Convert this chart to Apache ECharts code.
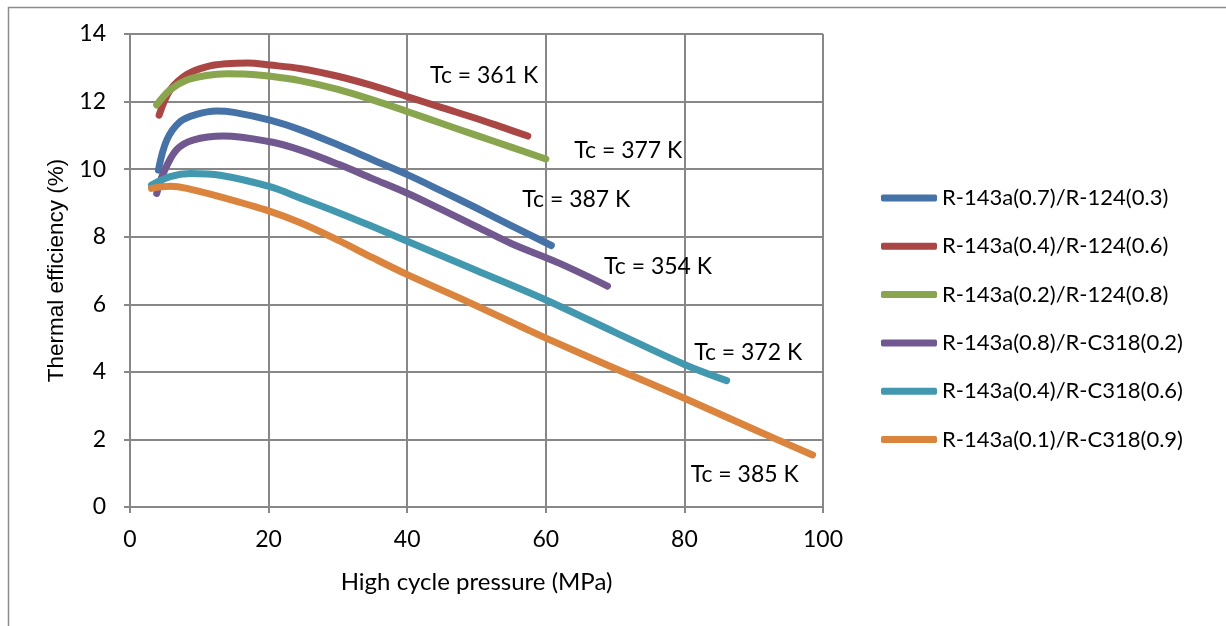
<!DOCTYPE html>
<html>
<head>
<meta charset="utf-8">
<script src="https://cdn.jsdelivr.net/npm/echarts@6/dist/echarts.min.js"></script>
<style>
  html, body { margin: 0; padding: 0; background: #fff; }
  #chart { width: 1226px; height: 626px; }
</style>
</head>
<body>
<div id="chart"></div>
<script>
const names = [
  'R-143a(0.7)/R-124(0.3)',
  'R-143a(0.4)/R-124(0.6)',
  'R-143a(0.2)/R-124(0.8)',
  'R-143a(0.8)/R-C318(0.2)',
  'R-143a(0.4)/R-C318(0.6)',
  'R-143a(0.1)/R-C318(0.9)',
];
const colors = ['#4572A7', '#AA4643', '#89A54E', '#71588F', '#4198AF', '#DB843D'];

// pressure (MPa) / efficiency (%)
const blueX = [4.1, 5.3, 7.2, 9.6, 12.5, 15, 20.2, 24.5, 30, 35, 40.1, 45, 50, 55, 60.8];
const blueY = [9.97, 10.86, 11.4, 11.62, 11.72, 11.68, 11.45, 11.17, 10.72, 10.28, 9.83, 9.35, 8.85, 8.33, 7.74];
const redX = [4.2, 5.8, 8.2, 11, 14, 17, 20.2, 24.5, 30, 35, 40.1, 45, 50, 54, 57.4];
const redY = [11.6, 12.34, 12.8, 13.03, 13.12, 13.14, 13.08, 12.98, 12.75, 12.47, 12.14, 11.82, 11.5, 11.22, 10.98];
const greenX = [3.85, 5.8, 8.2, 11, 14, 17, 20.2, 24.5, 30, 35, 40.1, 45, 50, 55, 60];
const greenY = [11.9, 12.35, 12.64, 12.77, 12.82, 12.81, 12.75, 12.62, 12.36, 12.05, 11.7, 11.35, 11.0, 10.65, 10.3];
const purpleX = [3.85, 4.8, 6.7, 9.1, 13.5, 20.2, 24.5, 30, 35, 40.1, 45, 50, 55, 62, 68.9];
const purpleY = [9.28, 9.87, 10.57, 10.86, 10.98, 10.81, 10.57, 10.15, 9.72, 9.28, 8.8, 8.3, 7.8, 7.21, 6.54];
const cyanX = [3.1, 5.8, 8.7, 13, 20.2, 24.5, 30, 35, 40.1, 50, 60.1, 70, 80, 86.1];
const cyanY = [9.53, 9.78, 9.87, 9.82, 9.48, 9.15, 8.72, 8.3, 7.86, 7.0, 6.12, 5.17, 4.22, 3.74];
const orangeX = [3.1, 5.8, 8.2, 13, 20.2, 24.5, 30, 35, 40.1, 49, 56.3, 60.1, 70, 80, 90, 98.5];
const orangeY = [9.43, 9.49, 9.43, 9.18, 8.75, 8.42, 7.9, 7.38, 6.87, 6.05, 5.35, 4.99, 4.1, 3.22, 2.3, 1.54];

const seriesX = [blueX, redX, greenX, purpleX, cyanX, orangeX];
const seriesY = [blueY, redY, greenY, purpleY, cyanY, orangeY];

// critical temperature notes, anchored in data units
const tcText = ['Tc = 387 K', 'Tc = 361 K', 'Tc = 377 K', 'Tc = 354 K', 'Tc = 372 K', 'Tc = 385 K'];
const tcAt = [[64.4, 9.11], [51.1, 12.78], [71.9, 10.54], [76.2, 7.13], [89.2, 4.57], [88.7, 0.95]];

const xTicks = { min: 0, max: 100, step: 20 };
const yTicks = { min: 0, max: 14, step: 2 };

const font = 'Lato, "Open Sans", sans-serif';
const gridGray = '#878787';

const chart = echarts.init(document.getElementById('chart'));

const series = names.map((name, i) => ({
  name,
  type: 'line',
  smooth: 0.35,
  symbol: 'none',
  color: colors[i],
  lineStyle: { width: 7, color: colors[i], cap: 'round', join: 'round' },
  data: seriesX[i].map((x, k) => [x, seriesY[i][k]]),
  markPoint: {
    symbol: 'circle',
    symbolSize: 0,
    silent: true,
    label: {
      show: true,
      position: 'inside',
      color: '#000',
      fontFamily: font,
      fontSize: 23,
      formatter: tcText[i],
    },
    data: [{ coord: tcAt[i] }],
  },
}));

chart.setOption({
  animation: false,
  textStyle: { fontFamily: font },
  graphic: [{
    type: 'rect',
    left: 6,
    top: 5,
    shape: { width: 1240, height: 640 },
    style: { fill: 'none', stroke: '#8c8c8c', lineWidth: 1.5 },
    silent: true,
  }],
  grid: { left: 130, right: 403, top: 34, bottom: 119 },
  legend: {
    orient: 'vertical',
    left: 876,
    top: 182,
    icon: 'roundRect',
    itemWidth: 56,
    itemHeight: 7,
    itemGap: 26.3,
    textStyle: { fontFamily: font, fontSize: 22, color: '#000', lineHeight: 22 },
    data: names,
  },
  xAxis: {
    type: 'value',
    min: xTicks.min,
    max: xTicks.max,
    interval: xTicks.step,
    name: 'High cycle pressure (MPa)',
    nameLocation: 'middle',
    nameGap: 63,
    nameTextStyle: { fontFamily: font, fontSize: 24, color: '#000' },
    axisLine: { show: true, lineStyle: { color: gridGray, width: 2 } },
    axisTick: { show: true, length: 6, lineStyle: { color: gridGray, width: 2 } },
    axisLabel: { fontFamily: font, fontSize: 23, color: '#000', margin: 21 },
    splitLine: { show: true, lineStyle: { color: gridGray, width: 2 } },
  },
  yAxis: {
    type: 'value',
    min: yTicks.min,
    max: yTicks.max,
    interval: yTicks.step,
    name: 'Thermal efficiency (%)',
    nameLocation: 'middle',
    nameGap: 59,
    nameTextStyle: { fontFamily: '"Liberation Sans", Arial, sans-serif', fontSize: 22.5, color: '#000' },
    axisLine: { show: true, lineStyle: { color: gridGray, width: 2 } },
    axisTick: { show: true, length: 6, lineStyle: { color: gridGray, width: 2 } },
    axisLabel: { fontFamily: font, fontSize: 23, color: '#000', margin: 24 },
    splitLine: { show: true, lineStyle: { color: gridGray, width: 2 } },
  },
  series,
});

window.addEventListener('resize', () => chart.resize());
</script>
</body>
</html>
